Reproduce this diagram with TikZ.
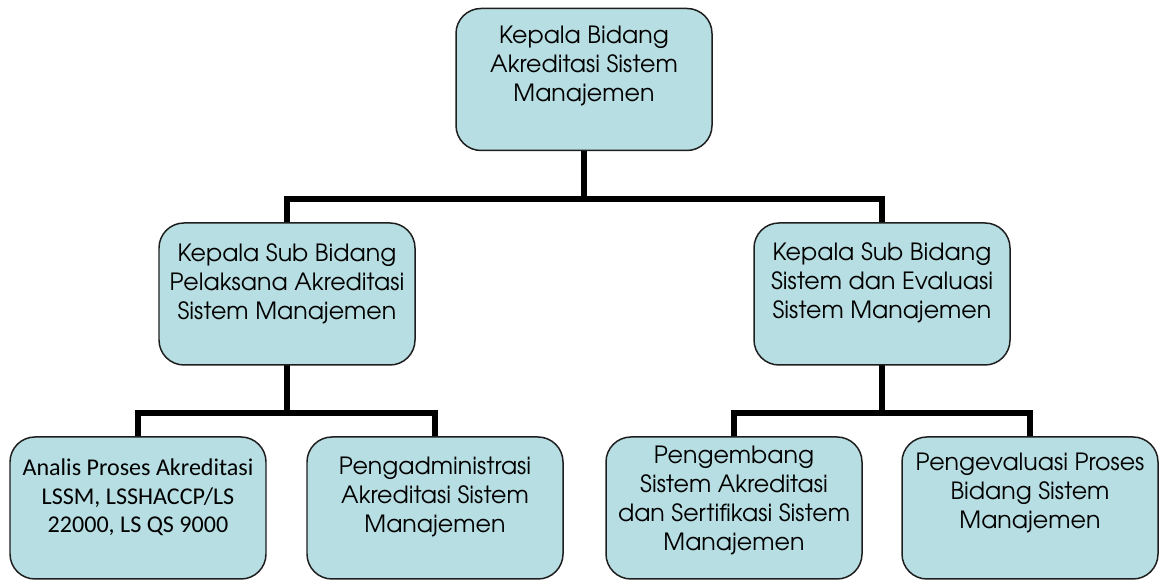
\documentclass[tikz,border=0pt]{standalone}
\usepackage{fontspec}
\setmainfont{texgyreadventor}[Extension=.otf, UprightFont=*-regular, BoldFont=*-bold]
\newfontfamily\calibri{Carlito}
\usetikzlibrary{positioning}

\definecolor{unitfill}{RGB}{183,222,226}
\definecolor{unitdraw}{RGB}{30,30,30}

% text block of a unit box, set from the top
\newcommand{\unittext}[2][0.34cm]{%
  \begin{minipage}[c][2.84cm][t]{5.12cm}\centering\vspace*{#1}#2\end{minipage}}

\tikzset{
  unit/.style={draw=unitdraw, line width=0.85pt, fill=unitfill,
    rounded corners=0.5cm, inner sep=0pt,
    font=\fontsize{13.5}{16.5}\selectfont},
  link/.style={line width=2.9pt, line join=miter}
}

\begin{document}
\begin{tikzpicture}
    \useasboundingbox (0,0) rectangle (23.26,11.64);

    % junctions of the connectors
    \coordinate (j1) at (11.68,7.66);
    \coordinate (j2) at (5.74,3.38);
    \coordinate (j3) at (17.64,3.38);

    % connectors (drawn first, boxes cover their ends)
    \draw[link] (11.68,10.05) -- (j1);
    \draw[link] (5.74,5.76) |- (j1) -| (17.64,5.76);
    \draw[link] (5.74,5.76) -- (j2);
    \draw[link] (2.76,1.48) |- (j2) -| (8.70,1.48);
    \draw[link] (17.64,5.76) -- (j3);
    \draw[link] (14.68,1.48) |- (j3) -| (20.60,1.48);

    % boxes
    \node[unit] (head) at (11.68,10.05)
        {\unittext{Kepala Bidang\\Akreditasi Sistem\\Manajemen}};

    \node[unit] (subA) at (5.74,5.76)
        {\unittext[0.42cm]{Kepala Sub Bidang\\Pelaksana Akreditasi\\Sistem Manajemen}};
    \node[unit] (subB) at (17.64,5.76)
        {\unittext[0.40cm]{Kepala Sub Bidang\\Sistem dan Evaluasi\\Sistem Manajemen}};

    \node[unit] (analis) at (2.76,1.48)
        {\unittext[0.44cm]{\calibri\fontsize{13.7}{16.3}\selectfont Analis Proses Akreditasi\\LSSM, LSSHACCP/LS\\22000, LS QS 9000}};
    \node[unit] (admin) at (8.70,1.48)
        {\unittext[0.40cm]{Pengadministrasi\\Akreditasi Sistem\\Manajemen}};
    \node[unit] (kembang) at (14.68,1.48)
        {\unittext[0.18cm]{Pengembang\\Sistem Akreditasi\\dan Sertifikasi Sistem\\Manajemen}};
    \node[unit] (evaluasi) at (20.60,1.48)
        {\unittext[0.32cm]{Pengevaluasi Proses\\Bidang Sistem\\Manajemen}};
\end{tikzpicture}
\end{document}
